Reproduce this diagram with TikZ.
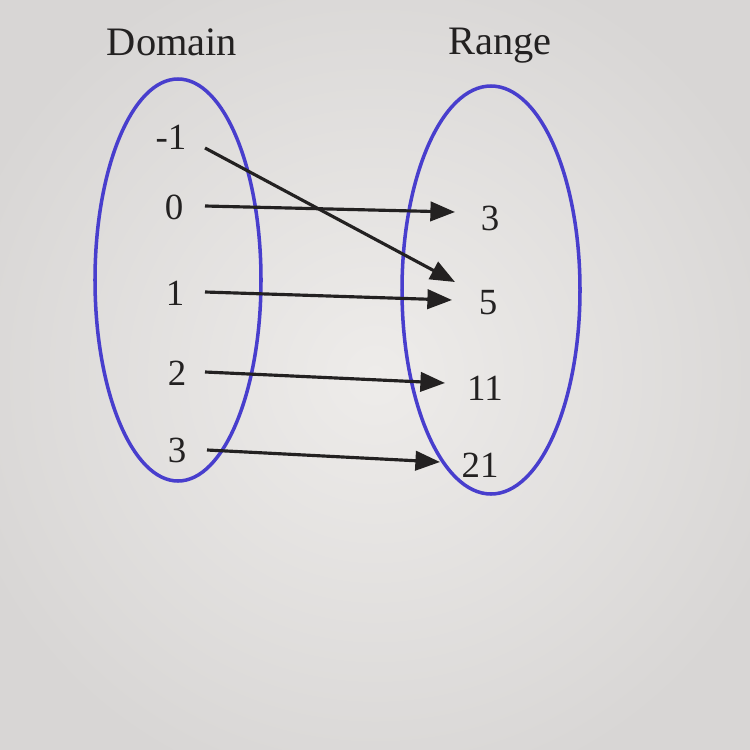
\documentclass[tikz,border=0pt]{standalone}
\usepackage{fontspec}
\setmainfont{Liberation Serif}
\usetikzlibrary{calc,arrows.meta}
\definecolor{bgin}{RGB}{238,236,234}
\definecolor{bgout}{RGB}{216,214,213}
\definecolor{ovalblue}{RGB}{72,62,205}
\definecolor{ink}{RGB}{35,33,33}
\tikzset{
  lbl/.style={font=\fontsize{23}{26}\selectfont, text=ink, inner sep=0pt},
  num/.style={font=\fontsize{21}{24}\selectfont, text=ink, inner sep=0pt},
  oval/.style={draw=ovalblue, line width=2pt},
  maparrow/.style={draw=ink, line width=1.8pt, -{Triangle[length=14pt,width=11pt]}},
}
\begin{document}
\begin{tikzpicture}[x=0.02cm,y=-0.02cm]
\useasboundingbox (0,0) rectangle (750,750);
\shade[inner color=bgin, outer color=bgout] (-60,-60) rectangle (810,810);
% titles
\node[lbl] (dom) at (172,42) {Domain};
\node[lbl] (ran) at (500,46) {Range};
% ovals
\draw[oval] (178,280) ellipse [x radius=83, y radius=201];
\draw[oval] (491,290) ellipse [x radius=89, y radius=204];
% domain values
\node[num] (dm1) at (171,137) {-1};
\node[num] (d0) at (174,207) {0};
\node[num] (d1) at (175,293) {1};
\node[num] (d2) at (177,373) {2};
\node[num] (d3) at (177,450) {3};
% range values
\node[num] (r3) at (490,218) {3};
\node[num] (r5) at (488,303) {5};
\node[num] (r11) at (485,388) {11};
\node[num] (r21) at (480,465) {21};
% arrows
\draw[maparrow] ($(dm1)+(34,11)$) -- ($(r5)+(-33,-21)$);
\draw[maparrow] ($(d0)+(31,-1)$) -- ($(r3)+(-35,-6)$);
\draw[maparrow] ($(d1)+(30,-1)$) -- ($(r5)+(-36,-3)$);
\draw[maparrow] ($(d2)+(28,-1)$) -- ($(r11)+(-40,-5)$);
\draw[maparrow] ($(d3)+(30,0)$) -- ($(r21)+(-40,-3)$);
\end{tikzpicture}
\end{document}
